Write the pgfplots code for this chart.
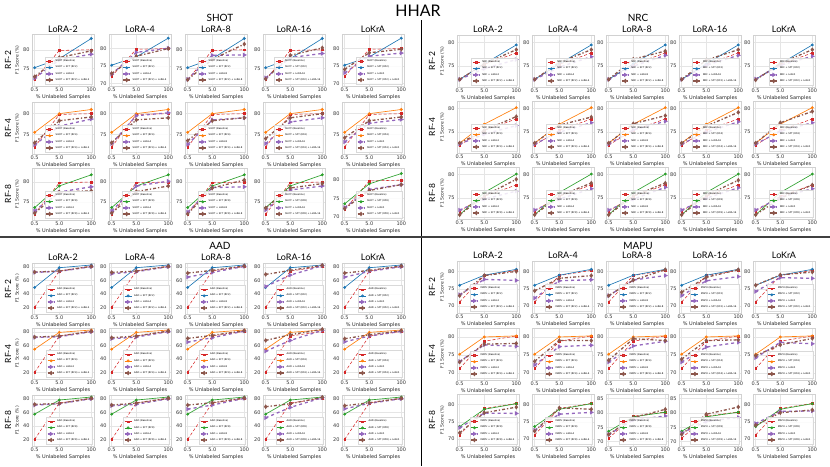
\documentclass[border=0pt]{standalone}
\usepackage{pgfplots}
\pgfplotsset{compat=1.18}
\usepackage{fontspec}
\setmainfont{DejaVu Sans}
\newfontfamily\tfont{Lato}
\definecolor{cRed}{HTML}{D62728}
\definecolor{cBlue}{HTML}{1F77B4}
\definecolor{cOrange}{HTML}{FF7F0E}
\definecolor{cGreen}{HTML}{2CA02C}
\definecolor{cPurple}{HTML}{9467BD}
\definecolor{cBrown}{HTML}{8C564B}
\pgfplotsset{
 hsub/.style={scale only axis, width=62pt, height=\hsubh,
  xmin=-0.41, xmax=2.11, xtick={-0.30103,0.69897,2}, xticklabels={0.5,5.0,100},
  yticklabel={\pgfmathparse{int(round(\tick))}\pgfmathresult},
  grid=major, major grid style={black!10, line width=0.4pt},
  axis line style={black!18, line width=0.6pt}, tick style={draw=none},
  ticklabel style={font=\fontsize{5}{5}\selectfont, text=black!80},
  xticklabel style={yshift=1.5pt}, yticklabel style={xshift=1pt},
  xlabel={\% Unlabeled Samples}, xlabel style={font=\fontsize{5}{5}\selectfont, text=black!85, yshift=4pt},
  ylabel style={font=\fontsize{4.5}{5}\selectfont, text=black!85, yshift=-3pt},
  legend style={font=\fontsize{2.4}{2.6}\selectfont, at={(0.97,0.03)}, anchor=south east,
   draw=black!15, fill=white, fill opacity=0.85, text opacity=1, inner sep=0.6pt, row sep=-1.2pt,
   cells={anchor=west}},
  legend image code/.code={\draw[mark repeat=2,mark phase=2] plot coordinates {(0cm,0cm) (0.12cm,0cm) (0.24cm,0cm)};},
  clip=false, anchor=north west},
 hbase/.style={cRed, line width=0.55pt, densely dashed, mark=square*, mark size=0.9pt, mark options={solid}},
 hsft/.style={line width=0.65pt, solid, mark=*, mark size=1.1pt},
 hlora/.style={cPurple, line width=1.3pt, dashed, mark=triangle*, mark size=1.3pt, mark options={solid, rotate=-90}},
 hcomb/.style={cBrown, line width=1.3pt, dash dot, mark=diamond*, mark size=1.3pt, mark options={solid}},
 hyl/.style={ylabel={F1 Score (\%)}},
}
\def\hsubh{52pt}
\def\hyt{70,75,80}
\newcommand\sub[8]{%
 \begin{axis}[hsub, ytick/.expanded={\hyt}, at={(#1pt,-#2pt)}, ymin=#3, ymax=#4, #8]
 \plotB
 \plotS
 \addplot[hlora] coordinates {#6};
 \addplot[hcomb] coordinates {#7};
 \legend{\meth{} (Baseline), \meth{} + SFT (\rf), \meth{} + #5, \meth{} + SFT (\rf) + #5}
 \end{axis}}
\begin{document}
\begin{tikzpicture}
\useasboundingbox (0,0) rectangle (830pt,-466pt);
% titles
\node[font=\tfont\fontsize{16}{16}\selectfont, anchor=base] at (418pt,-16pt) {HHAR};
\foreach \ta/\xa/\ya in {SHOT/220/21, NRC/638/21, AAD/220/249, MAPU/638/249}
  \node[font=\tfont\fontsize{10}{10}\selectfont, anchor=base] at (\xa pt,-\ya pt) {\ta};
\foreach \ta/\xa in {LoRA-2/63, LoRA-4/140, LoRA-8/216, LoRA-16/294, LoKrA/373} {
  \node[font=\tfont\fontsize{9}{9}\selectfont, anchor=base] at (\xa pt,-32.5pt) {\ta};
  \node[font=\tfont\fontsize{9}{9}\selectfont, anchor=base] at (\xa pt,-260pt) {\ta};}
\foreach \ta/\xa in {LoRA-2/488, LoRA-4/563, LoRA-8/637, LoRA-16/710, LoKrA/784} {
  \node[font=\tfont\fontsize{9}{9}\selectfont, anchor=base] at (\xa pt,-32.5pt) {\ta};
  \node[font=\tfont\fontsize{9}{9}\selectfont, anchor=base] at (\xa pt,-258pt) {\ta};}
\foreach \ta/\xa/\ya in {RF-2/8/60, RF-4/8/128, RF-8/8/194, RF-2/432/61, RF-4/432/127, RF-8/432/193,
  RF-2/8/289, RF-4/8/354, RF-8/8/420, RF-2/432/287, RF-4/432/354, RF-8/432/420}
  \node[font=\tfont\fontsize{8.5}{8.5}\selectfont, rotate=90] at (\xa pt,-\ya pt) {\ta};
\draw[black!75, line width=2pt] (0,-237pt) -- (830pt,-237pt);
\draw[black, line width=0.8pt] (421pt,-20pt) -- (421pt,-236pt);
\draw[black, line width=0.8pt] (421pt,-238pt) -- (421pt,-466pt);

% ================= SHOT =================
\def\hyt{70,75,80}
\def\meth{SHOT}
\def\plotB{\addplot[hbase] coordinates {(-0.30103,72.0)(0.69897,79.8)(2,80.0)};}
\def\rf{RF2}
\def\plotS{\addplot[hsft,cBlue] coordinates {(-0.30103,75.2)(0.69897,77.6)(2,83.0)};}
\sub{32}{34}{70.3}{84.2}{LoRA-2}{(-0.30103,72.4)(0.69897,77.3)(2,78.8)}{(-0.30103,72.8)(0.69897,77.9)(2,79.7)}{hyl}
\sub{109}{34}{69.2}{84.2}{LoRA-4}{(-0.30103,72.6)(0.69897,78.9)(2,80.1)}{(-0.30103,72.8)(0.69897,77.8)(2,80.0)}{}
\sub{185}{34}{70.3}{84.2}{LoRA-8}{(-0.30103,72.1)(0.69897,78.5)(2,78.6)}{(-0.30103,72.0)(0.69897,77.4)(2,81.5)}{}
\sub{263}{34}{70.3}{84.2}{LoRA-16}{(-0.30103,72.5)(0.69897,77.9)(2,79.0)}{(-0.30103,72.2)(0.69897,78.5)(2,80.5)}{}
\sub{342}{34}{69.2}{84.2}{LoKrA}{(-0.30103,73.0)(0.69897,77.8)(2,78.7)}{(-0.30103,74.0)(0.69897,78.8)(2,79.8)}{}
\def\rf{RF4}
\def\plotS{\addplot[hsft,cOrange] coordinates {(-0.30103,75.5)(0.69897,80.0)(2,81.0)};}
\sub{32}{102}{70.3}{82.8}{LoRA-2}{(-0.30103,72.5)(0.69897,77.0)(2,78.7)}{(-0.30103,73.0)(0.69897,78.3)(2,79.2)}{hyl}
\sub{109}{102}{70.3}{82.8}{LoRA-4}{(-0.30103,72.8)(0.69897,79.5)(2,80.2)}{(-0.30103,73.0)(0.69897,78.5)(2,79.0)}{}
\sub{185}{102}{70.3}{82.8}{LoRA-8}{(-0.30103,72.6)(0.69897,78.5)(2,79.0)}{(-0.30103,73.5)(0.69897,78.3)(2,79.0)}{}
\sub{263}{102}{70.3}{82.8}{LoRA-16}{(-0.30103,72.8)(0.69897,78.0)(2,79.0)}{(-0.30103,74.0)(0.69897,79.0)(2,80.0)}{}
\sub{342}{102}{70.3}{82.8}{LoKrA}{(-0.30103,73.2)(0.69897,77.7)(2,78.6)}{(-0.30103,74.2)(0.69897,78.3)(2,79.2)}{}
\def\rf{RF8}
\def\plotS{\addplot[hsft,cGreen] coordinates {(-0.30103,73.6)(0.69897,79.0)(2,81.8)};}
\sub{32}{168}{70.5}{83.5}{LoRA-2}{(-0.30103,72.8)(0.69897,77.5)(2,78.8)}{(-0.30103,72.2)(0.69897,77.5)(2,77.8)}{hyl}
\sub{109}{168}{70.5}{83.5}{LoRA-4}{(-0.30103,72.8)(0.69897,79.0)(2,80.2)}{(-0.30103,72.2)(0.69897,77.6)(2,79.0)}{}
\sub{185}{168}{70.5}{83.5}{LoRA-8}{(-0.30103,72.5)(0.69897,78.6)(2,78.8)}{(-0.30103,72.0)(0.69897,78.5)(2,80.5)}{}
\sub{263}{168}{70.5}{83.5}{LoRA-16}{(-0.30103,73.0)(0.69897,78.0)(2,79.0)}{(-0.30103,73.5)(0.69897,78.5)(2,79.6)}{}
\sub{342}{168}{69.2}{83.3}{LoKrA}{(-0.30103,72.6)(0.69897,77.5)(2,78.8)}{(-0.30103,72.3)(0.69897,77.2)(2,78.8)}{}

% ================= NRC =================
\def\meth{NRC}
\def\plotB{\addplot[hbase] coordinates {(-0.30103,72.3)(0.69897,75.4)(2,77.8)};}
\def\rf{RF2}
\def\plotS{\addplot[hsft,cBlue] coordinates {(-0.30103,72.2)(0.69897,75.5)(2,79.5)};}
\sub{457}{35}{70.6}{81.6}{LoRA-2}{(-0.30103,72.2)(0.69897,74.5)(2,76.4)}{(-0.30103,72.2)(0.69897,75.5)(2,78.5)}{hyl}
\sub{532}{35}{70.6}{81.6}{LoRA-4}{(-0.30103,72.2)(0.69897,74.8)(2,77.0)}{(-0.30103,72.2)(0.69897,75.8)(2,78.5)}{}
\sub{606}{35}{70.6}{81.6}{LoRA-8}{(-0.30103,72.2)(0.69897,75.0)(2,77.3)}{(-0.30103,72.2)(0.69897,76.5)(2,78.2)}{}
\sub{679}{35}{70.6}{81.6}{LoRA-16}{(-0.30103,72.2)(0.69897,75.2)(2,77.3)}{(-0.30103,72.2)(0.69897,76.3)(2,78.5)}{}
\sub{753}{35}{70.6}{81.6}{LoKrA}{(-0.30103,72.3)(0.69897,75.2)(2,77.1)}{(-0.30103,72.1)(0.69897,75.6)(2,78.5)}{}
\def\rf{RF4}
\def\plotS{\addplot[hsft,cOrange] coordinates {(-0.30103,72.7)(0.69897,76.7)(2,80.2)};}
\sub{457}{101}{70.6}{81.6}{LoRA-2}{(-0.30103,72.5)(0.69897,74.6)(2,76.4)}{(-0.30103,72.7)(0.69897,75.4)(2,78.3)}{hyl}
\sub{532}{101}{70.6}{81.6}{LoRA-4}{(-0.30103,72.5)(0.69897,75.0)(2,77.0)}{(-0.30103,72.7)(0.69897,76.5)(2,78.2)}{}
\sub{606}{101}{70.6}{81.6}{LoRA-8}{(-0.30103,72.5)(0.69897,75.5)(2,77.3)}{(-0.30103,72.7)(0.69897,76.8)(2,78.5)}{}
\sub{679}{101}{70.6}{81.6}{LoRA-16}{(-0.30103,72.5)(0.69897,75.0)(2,77.2)}{(-0.30103,72.7)(0.69897,76.3)(2,79.2)}{}
\sub{753}{101}{70.6}{81.6}{LoKrA}{(-0.30103,72.5)(0.69897,75.2)(2,77.0)}{(-0.30103,72.7)(0.69897,77.0)(2,79.4)}{}
\def\rf{RF8}
\def\plotS{\addplot[hsft,cGreen] coordinates {(-0.30103,71.5)(0.69897,76.2)(2,80.1)};}
\sub{457}{167}{70.6}{81.6}{LoRA-2}{(-0.30103,72.5)(0.69897,74.8)(2,76.5)}{(-0.30103,71.5)(0.69897,75.5)(2,79.0)}{hyl}
\sub{532}{167}{70.6}{81.6}{LoRA-4}{(-0.30103,72.5)(0.69897,74.8)(2,77.0)}{(-0.30103,71.5)(0.69897,75.5)(2,78.2)}{}
\sub{606}{167}{70.6}{81.6}{LoRA-8}{(-0.30103,72.5)(0.69897,74.8)(2,77.3)}{(-0.30103,71.5)(0.69897,75.5)(2,78.2)}{}
\sub{679}{167}{70.6}{81.6}{LoRA-16}{(-0.30103,72.5)(0.69897,75.0)(2,77.2)}{(-0.30103,71.5)(0.69897,75.6)(2,78.8)}{}
\sub{753}{167}{70.6}{81.6}{LoKrA}{(-0.30103,72.5)(0.69897,75.2)(2,77.0)}{(-0.30103,71.5)(0.69897,75.0)(2,77.8)}{}

% ================= AAD =================
\def\hyt{20,40,60,80}
\def\hsubh{51pt}
\def\meth{AAD}
\def\plotB{\addplot[hbase] coordinates {(-0.30103,20)(0.69897,74)(2,81)};}
\def\rf{RF2}
\def\plotS{\addplot[hsft,cBlue] coordinates {(-0.30103,49.5)(0.69897,79)(2,83)};}
\sub{32}{263}{10}{86}{LoRA-2}{(-0.30103,72)(0.69897,73.5)(2,80.5)}{(-0.30103,72.5)(0.69897,74)(2,81)}{hyl}
\sub{109}{263}{10}{86}{LoRA-4}{(-0.30103,70)(0.69897,73)(2,80.5)}{(-0.30103,72)(0.69897,74)(2,81)}{}
\sub{185}{263}{10}{86}{LoRA-8}{(-0.30103,65)(0.69897,72)(2,81)}{(-0.30103,71)(0.69897,75)(2,81.5)}{}
\sub{263}{263}{10}{86}{LoRA-16}{(-0.30103,51)(0.69897,68)(2,82)}{(-0.30103,69)(0.69897,75)(2,82.5)}{}
\sub{342}{263}{10}{86}{LoKrA}{(-0.30103,65)(0.69897,73.5)(2,80.5)}{(-0.30103,71)(0.69897,75)(2,81.5)}{}
\def\rf{RF4}
\def\plotS{\addplot[hsft,cOrange] coordinates {(-0.30103,54.5)(0.69897,79.5)(2,83)};}
\sub{32}{328}{10}{86}{LoRA-2}{(-0.30103,72)(0.69897,73)(2,80.5)}{(-0.30103,72.5)(0.69897,74)(2,81)}{hyl}
\sub{109}{328}{10}{86}{LoRA-4}{(-0.30103,70)(0.69897,72.5)(2,80.5)}{(-0.30103,71.5)(0.69897,74)(2,81.5)}{}
\sub{185}{328}{10}{86}{LoRA-8}{(-0.30103,65)(0.69897,71.5)(2,81.5)}{(-0.30103,70.5)(0.69897,75)(2,82)}{}
\sub{263}{328}{10}{86}{LoRA-16}{(-0.30103,51.5)(0.69897,67.5)(2,82.5)}{(-0.30103,67.5)(0.69897,76)(2,84)}{}
\sub{342}{328}{10}{86}{LoKrA}{(-0.30103,65.5)(0.69897,74)(2,81)}{(-0.30103,70)(0.69897,76)(2,82)}{}
\def\rf{RF8}
\def\plotS{\addplot[hsft,cGreen] coordinates {(-0.30103,57.5)(0.69897,78.5)(2,83)};}
\sub{32}{395}{10}{86}{LoRA-2}{(-0.30103,71)(0.69897,73)(2,80.5)}{(-0.30103,72)(0.69897,73.5)(2,81)}{hyl}
\sub{109}{395}{10}{86}{LoRA-4}{(-0.30103,70)(0.69897,72)(2,80.5)}{(-0.30103,71)(0.69897,74)(2,81)}{}
\sub{185}{395}{10}{86}{LoRA-8}{(-0.30103,65)(0.69897,71)(2,81)}{(-0.30103,71)(0.69897,74.5)(2,81.5)}{}
\sub{263}{395}{10}{86}{LoRA-16}{(-0.30103,52)(0.69897,67.5)(2,82)}{(-0.30103,68.5)(0.69897,73)(2,82.5)}{}
\sub{342}{395}{10}{86}{LoKrA}{(-0.30103,65.5)(0.69897,73.5)(2,80.5)}{(-0.30103,70)(0.69897,74.5)(2,81)}{}

% ================= MAPU =================
\def\hyt{70,75,80,85}
\def\hsubh{52pt}
\def\meth{MAPU}
\def\plotB{\addplot[hbase] coordinates {(-0.30103,71.2)(0.69897,78.8)(2,80.3)};}
\def\rf{RF2}
\def\plotS{\addplot[hsft,cBlue] coordinates {(-0.30103,76)(0.69897,78.9)(2,80.6)};}
\sub{457}{261}{68}{83}{LoRA-2}{(-0.30103,73.3)(0.69897,77.7)(2,77.4)}{(-0.30103,73)(0.69897,78.8)(2,80)}{hyl}
\sub{532}{261}{68}{83}{LoRA-4}{(-0.30103,72.3)(0.69897,77.3)(2,77.6)}{(-0.30103,74.4)(0.69897,78)(2,78.8)}{}
\sub{606}{261}{68}{83}{LoRA-8}{(-0.30103,73)(0.69897,77.5)(2,78.8)}{(-0.30103,73)(0.69897,77.5)(2,80.5)}{}
\sub{679}{261}{68}{83}{LoRA-16}{(-0.30103,73)(0.69897,77.3)(2,78.5)}{(-0.30103,74)(0.69897,78.3)(2,80.5)}{}
\sub{753}{261}{68}{83}{LoKrA}{(-0.30103,74.2)(0.69897,78.2)(2,78)}{(-0.30103,76)(0.69897,79)(2,79.8)}{}
\def\rf{RF4}
\def\plotS{\addplot[hsft,cOrange] coordinates {(-0.30103,75.2)(0.69897,80)(2,80.3)};}
\sub{457}{328}{68}{82.5}{LoRA-2}{(-0.30103,73.2)(0.69897,77.8)(2,77.4)}{(-0.30103,73)(0.69897,78)(2,78.2)}{hyl}
\sub{532}{328}{68}{82.5}{LoRA-4}{(-0.30103,72.2)(0.69897,77.3)(2,77.7)}{(-0.30103,73.2)(0.69897,79)(2,79)}{}
\sub{606}{328}{68}{82.5}{LoRA-8}{(-0.30103,73)(0.69897,77.5)(2,78.8)}{(-0.30103,73.5)(0.69897,79.5)(2,79)}{}
\sub{679}{328}{68}{82.5}{LoRA-16}{(-0.30103,73)(0.69897,77.2)(2,78.5)}{(-0.30103,73.8)(0.69897,79)(2,79.2)}{}
\sub{753}{328}{68}{82.5}{LoKrA}{(-0.30103,74.2)(0.69897,78.5)(2,78.1)}{(-0.30103,74.8)(0.69897,77.8)(2,79.6)}{}
\def\rf{RF8}
\def\plotS{\addplot[hsft,cGreen] coordinates {(-0.30103,73.6)(0.69897,78.6)(2,80.2)};}
\sub{457}{394}{68}{83}{LoRA-2}{(-0.30103,73.3)(0.69897,77.5)(2,77.4)}{(-0.30103,71.8)(0.69897,77.6)(2,79.2)}{hyl}
\sub{532}{394}{68}{83}{LoRA-4}{(-0.30103,72.6)(0.69897,77.2)(2,77.7)}{(-0.30103,72.3)(0.69897,79)(2,78.6)}{}
\sub{606}{394}{68.5}{86.5}{LoRA-8}{(-0.30103,72.5)(0.69897,77.5)(2,78.9)}{(-0.30103,72.5)(0.69897,78.3)(2,81.2)}{}
\sub{679}{394}{68.5}{86.5}{LoRA-16}{(-0.30103,73)(0.69897,77)(2,78.4)}{(-0.30103,72.5)(0.69897,79.5)(2,82)}{}
\sub{753}{394}{68}{83}{LoKrA}{(-0.30103,74.5)(0.69897,78)(2,78.1)}{(-0.30103,74)(0.69897,77.6)(2,78.4)}{}
\end{tikzpicture}
\end{document}
